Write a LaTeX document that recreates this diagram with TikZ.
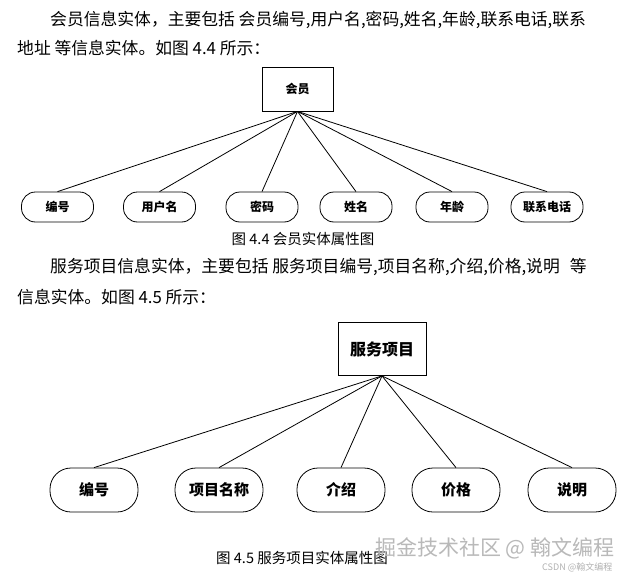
\documentclass[tikz,border=0pt]{standalone}
\usepackage{fontspec}
\setmainfont{Noto Sans CJK SC}
\begin{document}
\begin{tikzpicture}[x=1pt,y=-1pt,
  body/.style={anchor=west,inner sep=0pt,font=\fontsize{16.8}{18}\selectfont},
  captxt/.style={inner sep=0pt,font=\fontsize{14.5}{16}\selectfont},
  entity/.style={draw,line width=0.8pt,inner sep=0pt,font=\bfseries\fontsize{12}{14}\selectfont},
  attrA/.style={draw,line width=0.8pt,minimum width=72pt,minimum height=30pt,rounded corners=14pt,inner sep=0pt,font=\bfseries\fontsize{12}{14}\selectfont},
  attrB/.style={draw,line width=0.8pt,minimum width=88pt,minimum height=44pt,rounded corners=21pt,inner sep=0pt,font=\bfseries\fontsize{15}{17}\selectfont},
  link/.style={line width=0.8pt}]
\useasboundingbox[fill=white] (0,0) rectangle (637,578);
% paragraph 1
\node[body] (p1) at (50,20) {会员信息实体，主要包括 会员编号,用户名,密码,姓名,年龄,联系电话,联系};
\node[body] (p2) at (17,48) {地址 等信息实体。如图 4.4 所示：};
% figure 4.4
\node[entity,minimum width=71pt,minimum height=44pt] (m) at (297.5,89) {会员};
\node[attrA] (a1) at (57.5,207) {编号};
\node[attrA] (a2) at (159.5,207) {用户名};
\node[attrA] (a3) at (262,207) {密码};
\node[attrA] (a4) at (356,207) {姓名};
\node[attrA] (a5) at (452,207) {年龄};
\node[attrA] (a6) at (547,207) {联系电话};
\foreach \i in {a1,a2,a3,a4,a5,a6} \draw[link] (m.south) -- (\i.north);
\node[captxt] (c1) at (303,239) {图 4.4 会员实体属性图};
% paragraph 2
\node[body] (p3) at (50,267) {服务项目信息实体，主要包括 服务项目编号,项目名称,介绍,价格,说明\hspace{0.6em}等};
\node[body] (p4) at (17,297) {信息实体。如图 4.5 所示：};
% figure 4.5
\node[entity,minimum width=88pt,minimum height=53pt,font=\bfseries\fontsize{16}{18}\selectfont] (s) at (382,349) {服务项目};
\node[attrB] (b1) at (94,490) {编号};
\node[attrB] (b2) at (219,490) {项目名称};
\node[attrB] (b3) at (341,490) {介绍};
\node[attrB] (b4) at (456,490) {价格};
\node[attrB] (b5) at (572,490) {说明};
\foreach \i in {b1,b2,b3,b4,b5} \draw[link] (s.south) -- (\i.north);
\node[captxt] (c2) at (302,558) {图 4.5 服务项目实体属性图};
% watermarks
\node[inner sep=0pt,anchor=west,text=gray!55,font=\fontsize{21}{23}\selectfont] (w1) at (375,548) {掘金技术社区 @ 翰文编程};
\node[inner sep=0pt,anchor=west,text=gray!60,font=\fontsize{9}{10}\selectfont] (w2) at (542,567) {CSDN @翰文编程};
\end{tikzpicture}
\end{document}
